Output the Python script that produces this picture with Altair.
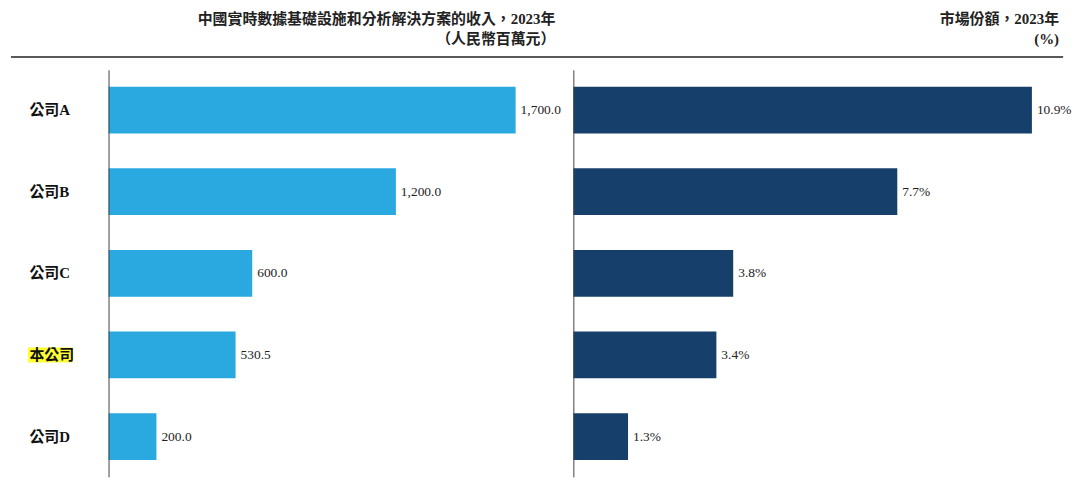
import altair as alt
import pandas as pd

companies = ["公司A", "公司B", "公司C", "本公司", "公司D"]
revenue = [1700.0, 1200.0, 600.0, 530.5, 200.0]
share = [10.9, 7.7, 3.8, 3.4, 1.3]
highlight = "本公司"

left_title = ["中國實時數據基礎設施和分析解決方案的收入，2023年", "（人民幣百萬元）"]
right_title = ["市場份額，2023年", "(%)"]

df = pd.DataFrame({"company": companies, "revenue": revenue, "share": share})

SERIF = "Liberation Serif, Noto Sans CJK TC"
H = 409
WL = 467
WR = 492

yscale = alt.Scale(domain=companies, paddingInner=0.427, paddingOuter=0.207)


def title(text, dx):
    return alt.TitleParams(text=text, anchor="end", frame="group", fontSize=15, font=SERIF,
                           fontWeight="bold", lineHeight=20, dx=dx, offset=9, color="#222")


base_l = alt.Chart(df)

yaxis_l = alt.Axis(title=None, ticks=False, labelAlign="left", labelPadding=80, labelFont=SERIF,
                   labelFontWeight="bold", labelFontSize=15, labelColor="#111", domainColor="#444",
                   domainWidth=1, zindex=1, grid=False)

bars_l = base_l.mark_bar(color="#29a9e0").encode(
    y=alt.Y("company:N", scale=yscale, axis=yaxis_l, sort=companies),
    x=alt.X("revenue:Q", scale=alt.Scale(domain=[0, 1941], nice=False, zero=True), axis=None),
)
text_l = base_l.mark_text(align="left", baseline="middle", dx=5, font=SERIF, fontSize=13.5,
                          color="#222").encode(
    y=alt.Y("company:N", sort=companies),
    x="revenue:Q",
    text=alt.Text("revenue:Q", format=",.1f"),
)
hl = base_l.transform_filter(alt.datum.company == highlight).mark_bar(
    color="#ffff33", height=15).encode(
    y=alt.Y("company:N", sort=companies),
    x=alt.value(-81),
    x2=alt.value(-36),
)
line_l = base_l.mark_rule(color="#5a5a5a", strokeWidth=2).encode(
    x=alt.value(-98), x2=alt.value(WL), y=alt.value(-13)
)

left = alt.layer(hl, bars_l, text_l, line_l).properties(
    width=WL, height=H, title=title(left_title, -18))

base_r = alt.Chart(df).transform_calculate(lab="format(datum.share, '.1f') + '%'")
yaxis_r = alt.Axis(title=None, ticks=False, labels=False, domainColor="#444", domainWidth=1,
                   zindex=1, grid=False)
bars_r = base_r.mark_bar(color="#16406b").encode(
    y=alt.Y("company:N", scale=yscale, axis=yaxis_r, sort=companies),
    x=alt.X("share:Q", scale=alt.Scale(domain=[0, 11.64], nice=False, zero=True), axis=None),
)
text_r = base_r.mark_text(align="left", baseline="middle", dx=5, font=SERIF, fontSize=13.5,
                          color="#222").encode(
    y=alt.Y("company:N", sort=companies),
    x="share:Q",
    text="lab:N",
)
line_r = base_r.mark_rule(color="#5a5a5a", strokeWidth=2).encode(
    x=alt.value(0), x2=alt.value(WR), y=alt.value(-13)
)
right = alt.layer(bars_r, text_r, line_r).properties(width=WR, height=H, title=title(right_title, -4))

chart = alt.hconcat(left, right, spacing=0, bounds="flush").properties(
    padding={"left": 2, "top": 3, "right": 0, "bottom": 0},
    background="white",
).configure_view(stroke=None)

chart.save("out.html", embed_options={"renderer": "svg", "actions": False})
